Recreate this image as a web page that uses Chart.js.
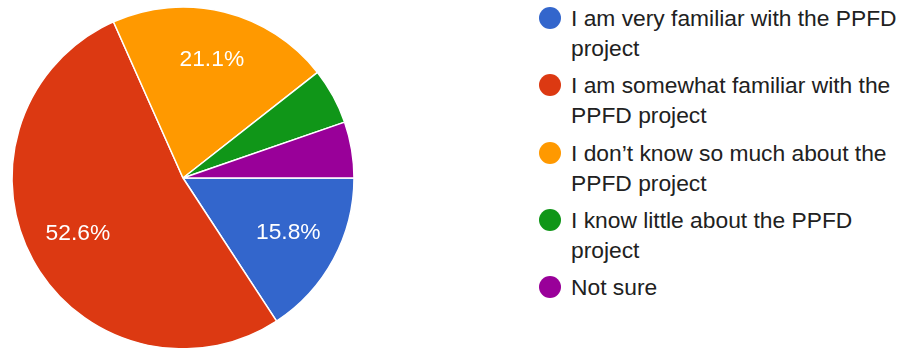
<!DOCTYPE html>
<html>
<head>
<meta charset="utf-8">
<script src="https://cdn.jsdelivr.net/npm/chart.js@4"></script>
<style>
  html, body { margin: 0; padding: 0; background: #fff; overflow: hidden; }
  body { width: 903px; height: 348px; position: relative; font-family: "Liberation Sans", Arial, sans-serif; }
  #pieBox { position: absolute; left: 0; top: 0; width: 366px; height: 356px; }
  #legend { position: absolute; left: 539px; top: 3px; width: 364px; margin: 0; padding: 0; list-style: none; }
  #legend li { position: relative; padding-left: 32px; font-size: 22.8px; line-height: 30px; color: #212121; margin-bottom: 7.3px; }
  #legend .dot { position: absolute; left: 0; top: 4px; width: 22px; height: 22px; border-radius: 50%; }
</style>
</head>
<body>
<div id="pieBox"><canvas id="pieChart"></canvas></div>
<ul id="legend"></ul>
<script>
const answers = [
  'I am very familiar with the PPFD project',
  'I am somewhat familiar with the PPFD project',
  'I don\u2019t know so much about the PPFD project',
  'I know little about the PPFD project',
  'Not sure'
];
const percents = [15.8, 52.6, 21.1, 5.3, 5.3];
const sliceColors = ['#3366cc', '#dc3912', '#ff9900', '#109618', '#990099'];

// percentage text inside the bigger slices
const sliceLabels = {
  id: 'sliceLabels',
  afterDatasetsDraw(chart) {
    const ctx = chart.ctx;
    const meta = chart.getDatasetMeta(0);
    const values = chart.data.datasets[0].data;
    ctx.save();
    ctx.fillStyle = '#fff';
    ctx.font = '22.8px "Liberation Sans", Arial, sans-serif';
    ctx.textAlign = 'center';
    ctx.textBaseline = 'middle';
    meta.data.forEach((arc, i) => {
      if (values[i] < 10) return;
      const p = arc.getProps(['x', 'y', 'startAngle', 'endAngle', 'outerRadius']);
      const mid = (p.startAngle + p.endAngle) / 2;
      const r = p.outerRadius * 0.7;
      ctx.fillText(values[i].toFixed(1) + '%', p.x + Math.cos(mid) * r, p.y + Math.sin(mid) * r - 2);
    });
    ctx.restore();
  }
};

const chart = new Chart(document.getElementById('pieChart'), {
  type: 'pie',
  data: {
    labels: answers,
    datasets: [{
      data: percents,
      backgroundColor: sliceColors,
      borderColor: '#fff',
      borderWidth: 1.5,
      radius: 171
    }]
  },
  options: {
    responsive: true,
    maintainAspectRatio: false,
    animation: false,
    rotation: 90,
    layout: { padding: 0 },
    plugins: {
      legend: { display: false },
      tooltip: { enabled: false }
    }
  },
  plugins: [sliceLabels]
});

// legend on the right, wrapped like the survey summary
const legendEl = document.getElementById('legend');
answers.forEach((label, i) => {
  const li = document.createElement('li');
  li.innerHTML = `<span class="dot" style="background:${sliceColors[i]}"></span>${label}`;
  legendEl.appendChild(li);
});
</script>
</body>
</html>
